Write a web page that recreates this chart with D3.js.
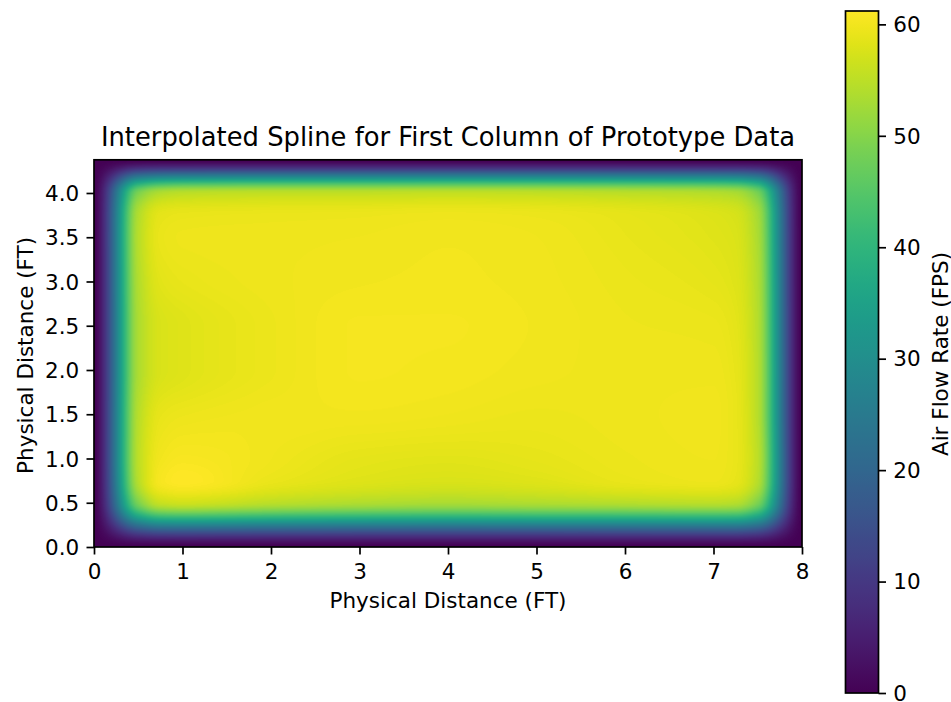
<!DOCTYPE html>
<html>
<head>
<meta charset="utf-8">
<script src="https://cdn.jsdelivr.net/npm/d3@7"></script>
<style>
  body { margin: 0; background: #ffffff; }
  svg { font-family: "DejaVu Sans", sans-serif; }
</style>
</head>
<body>
<svg id="chart" width="951" height="702"></svg>
<script>
// ---------------- data ----------------
const titleText = "Interpolated Spline for First Column of Prototype Data";
const xLabelText = "Physical Distance (FT)";
const yLabelText = "Physical Distance (FT)";
const colorbarLabelText = "Air Flow Rate (FPS)";

const xTickValues = [0, 1, 2, 3, 4, 5, 6, 7, 8];
const yTickValues = [0, 0.5, 1, 1.5, 2, 2.5, 3, 3.5, 4];
const colorbarTickValues = [0, 10, 20, 30, 40, 50, 60];

// grid positions (feet) at which values were read
const gridX = [0, 0.5, 0.75, 1, 2, 3, 4, 5, 6, 7, 7.25, 7.5, 8];
const gridY = [0, 0.5, 0.75, 1, 1.5, 2, 2.5, 3, 3.5, 3.75, 4, 4.375];

// air flow (FPS) per grid row, bottom (y = 0) to top (y = 4.375)
const flowAtY0000 = [0, 0, 0, 0, 0, 0, 0, 0, 0, 0, 0, 0, 0];
const flowAtY0500 = [0, 49.0, 56.0, 56.8, 55.0, 54.0, 53.5, 54.0, 54.5, 55.0, 54.5, 49.0, 0];
const flowAtY0750 = [0, 54.5, 60.5, 61.2, 59.3, 58.2, 57.7, 58.2, 59.2, 59.6, 59.0, 54.5, 0];
const flowAtY1000 = [0, 55.0, 60.0, 60.6, 59.8, 58.8, 58.5, 58.9, 59.5, 59.8, 59.2, 55.0, 0];
const flowAtY1500 = [0, 54.5, 59.0, 59.5, 59.9, 60.0, 59.8, 59.5, 59.7, 59.9, 59.2, 54.5, 0];
const flowAtY2000 = [0, 53.5, 57.6, 58.2, 59.5, 60.3, 60.2, 59.9, 59.7, 59.7, 59.0, 54.5, 0];
const flowAtY2500 = [0, 53.5, 57.6, 58.2, 59.5, 60.3, 60.3, 60.0, 59.6, 59.4, 58.7, 54.3, 0];
const flowAtY3000 = [0, 54.0, 58.5, 59.1, 59.7, 60.0, 60.1, 59.9, 59.4, 58.8, 58.2, 54.0, 0];
const flowAtY3500 = [0, 54.5, 59.2, 59.6, 59.7, 59.8, 60.0, 59.8, 59.1, 58.3, 57.8, 53.5, 0];
const flowAtY3750 = [0, 54.0, 58.8, 59.2, 59.4, 59.5, 59.7, 59.5, 58.9, 58.0, 57.4, 53.0, 0];
const flowAtY4000 = [0, 49.0, 54.0, 55.0, 55.5, 55.5, 55.7, 55.5, 55.0, 54.3, 53.5, 48.5, 0];
const flowAtY4375 = [0, 0, 0, 0, 0, 0, 0, 0, 0, 0, 0, 0, 0];

const flowRows = [flowAtY0000, flowAtY0500, flowAtY0750, flowAtY1000, flowAtY1500, flowAtY2000,
                  flowAtY2500, flowAtY3000, flowAtY3500, flowAtY3750, flowAtY4000, flowAtY4375];

// ---------------- layout ----------------
const plotLeft = 94, plotRight = 802, plotBottom = 547, plotTop = 159.8;
const cbLeft = 845.5, cbWidth = 33, cbTop = 11, cbBottom = 693;
const tickLen = 7.5, tickPad = 7.3, lineW = 1.7;
const tickFont = 21.5, labelFont = 21.5, titleFont = 25.8;

const svg = d3.select("#chart");

const xScale = d3.scaleLinear().domain([gridX[0], gridX[gridX.length - 1]]).range([plotLeft, plotRight]);
const yScale = d3.scaleLinear().domain([gridY[0], gridY[gridY.length - 1]]).range([plotBottom, plotTop]);

const vmax = d3.max(flowRows, r => d3.max(r));
const vmin = d3.min(flowRows, r => d3.min(r));
const colorScale = d3.scaleSequential(d3.interpolateViridis).domain([vmin, vmax]);

// monotone cubic (spline) interpolation between grid values, used for rendering
function spline(xs, ys) {
  const n = xs.length, h = [], d = [], m = new Array(n);
  for (let i = 0; i < n - 1; i++) { h[i] = xs[i + 1] - xs[i]; d[i] = (ys[i + 1] - ys[i]) / h[i]; }
  m[0] = d[0] * 0.15; m[n - 1] = d[n - 2] * 0.15;
  for (let i = 1; i < n - 1; i++) {
    if (d[i - 1] * d[i] <= 0) m[i] = 0;
    else {
      const w1 = 2 * h[i] + h[i - 1], w2 = h[i] + 2 * h[i - 1];
      m[i] = (w1 + w2) / (w1 / d[i - 1] + w2 / d[i]);
    }
  }
  return function (x) {
    let i = 0;
    while (i < n - 2 && x > xs[i + 1]) i++;
    const t = Math.max(0, Math.min(1, (x - xs[i]) / h[i]));
    const t2 = t * t, t3 = t2 * t;
    return (2 * t3 - 3 * t2 + 1) * ys[i] + (t3 - 2 * t2 + t) * h[i] * m[i]
         + (-2 * t3 + 3 * t2) * ys[i + 1] + (t3 - t2) * h[i] * m[i + 1];
  };
}

// ---------------- heatmap ----------------
const imgW = Math.round(plotRight - plotLeft), imgH = Math.round(plotBottom - plotTop);
const canvas = document.createElement("canvas");
canvas.width = imgW; canvas.height = imgH;
const ctx = canvas.getContext("2d");
const imgData = ctx.createImageData(imgW, imgH);
const rowSplines = flowRows.map(r => spline(gridX, r));
const LUT = d3.range(1024).map(k => d3.rgb(colorScale(vmin + (vmax - vmin) * k / 1023)));
for (let px = 0; px < imgW; px++) {
  const xv = xScale.invert(plotLeft + (px + 0.5) * (plotRight - plotLeft) / imgW);
  const col = rowSplines.map(f => f(xv));
  const colSpline = spline(gridY, col);
  for (let py = 0; py < imgH; py++) {
    const yv = yScale.invert(plotTop + (py + 0.5) * (plotBottom - plotTop) / imgH);
    const v = colSpline(yv);
    let k = Math.round((v - vmin) / (vmax - vmin) * 1023);
    k = Math.max(0, Math.min(1023, k));
    const c = LUT[k], o = (py * imgW + px) * 4;
    imgData.data[o] = c.r; imgData.data[o + 1] = c.g; imgData.data[o + 2] = c.b; imgData.data[o + 3] = 255;
  }
}
ctx.putImageData(imgData, 0, 0);

svg.append("image")
  .attr("x", plotLeft).attr("y", plotTop)
  .attr("width", plotRight - plotLeft).attr("height", plotBottom - plotTop)
  .attr("preserveAspectRatio", "none")
  .attr("href", canvas.toDataURL());

svg.append("rect")
  .attr("x", plotLeft).attr("y", plotTop)
  .attr("width", plotRight - plotLeft).attr("height", plotBottom - plotTop)
  .attr("fill", "none").attr("stroke", "#000").attr("stroke-width", lineW);

// axes
const xAxis = svg.append("g").attr("transform", `translate(0,${plotBottom})`)
  .call(d3.axisBottom(xScale).tickValues(xTickValues).tickFormat(d3.format("d"))
        .tickSize(tickLen).tickPadding(tickPad));
xAxis.select(".domain").remove();
xAxis.selectAll(".tick line").attr("stroke", "#000").attr("stroke-width", lineW);
xAxis.selectAll(".tick text").attr("fill", "#000").attr("font-size", tickFont)
  .attr("font-family", "DejaVu Sans").attr("dy", "0.82em");

const yAxis = svg.append("g").attr("transform", `translate(${plotLeft},0)`)
  .call(d3.axisLeft(yScale).tickValues(yTickValues).tickFormat(d3.format(".1f"))
        .tickSize(tickLen).tickPadding(tickPad));
yAxis.select(".domain").remove();
yAxis.selectAll(".tick line").attr("stroke", "#000").attr("stroke-width", lineW);
yAxis.selectAll(".tick text").attr("fill", "#000").attr("font-size", tickFont)
  .attr("font-family", "DejaVu Sans").attr("dy", "0.36em");

// labels
svg.append("text").attr("x", (plotLeft + plotRight) / 2).attr("y", 145.5)
  .attr("text-anchor", "middle").attr("font-size", titleFont).attr("fill", "#000")
  .text(titleText);
svg.append("text").attr("x", (plotLeft + plotRight) / 2).attr("y", 608)
  .attr("text-anchor", "middle").attr("font-size", labelFont).attr("fill", "#000")
  .text(xLabelText);
svg.append("text").attr("transform", `translate(32.5,${(plotTop + plotBottom) / 2 + 2}) rotate(-90)`)
  .attr("text-anchor", "middle").attr("font-size", labelFont).attr("fill", "#000")
  .text(yLabelText);

// ---------------- colorbar ----------------
const cbScale = d3.scaleLinear().domain([vmin, vmax]).range([cbBottom, cbTop]);
const defs = svg.append("defs");
const grad = defs.append("linearGradient").attr("id", "cbgrad")
  .attr("x1", 0).attr("y1", 1).attr("x2", 0).attr("y2", 0);
d3.range(0, 1.0001, 1 / 40).forEach(t => {
  grad.append("stop").attr("offset", t).attr("stop-color", colorScale(vmin + t * (vmax - vmin)));
});
svg.append("rect").attr("x", cbLeft).attr("y", cbTop)
  .attr("width", cbWidth).attr("height", cbBottom - cbTop)
  .attr("fill", "url(#cbgrad)");
svg.append("rect").attr("x", cbLeft).attr("y", cbTop)
  .attr("width", cbWidth).attr("height", cbBottom - cbTop)
  .attr("fill", "none").attr("stroke", "#000").attr("stroke-width", lineW);

const cbAxis = svg.append("g").attr("transform", `translate(${cbLeft + cbWidth},0)`)
  .call(d3.axisRight(cbScale).tickValues(colorbarTickValues).tickFormat(d3.format("d"))
        .tickSize(tickLen).tickPadding(tickPad));
cbAxis.select(".domain").remove();
cbAxis.selectAll(".tick line").attr("stroke", "#000").attr("stroke-width", lineW);
cbAxis.selectAll(".tick text").attr("fill", "#000").attr("font-size", tickFont)
  .attr("font-family", "DejaVu Sans").attr("dy", "0.34em");

svg.append("text").attr("transform", `translate(947.5,${(cbTop + cbBottom) / 2 + 2}) rotate(-90)`)
  .attr("text-anchor", "middle").attr("font-size", labelFont).attr("fill", "#000")
  .text(colorbarLabelText);
</script>
</body>
</html>
